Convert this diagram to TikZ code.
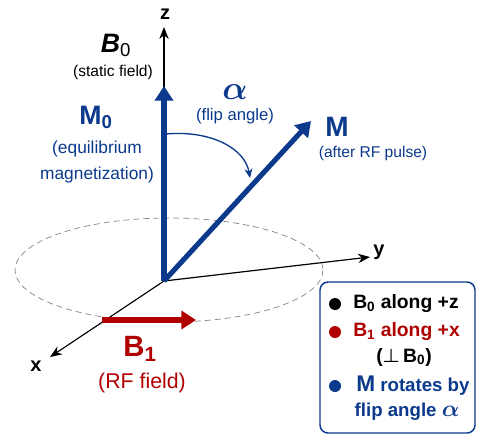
\documentclass[tikz,border=0pt]{standalone}
\usepackage{fontspec}
\setmainfont{Liberation Sans}
\usepackage{bm}
\usepackage{tikz}
\usetikzlibrary{arrows.meta,positioning}
\definecolor{magblue}{HTML}{0B3A8C}
\definecolor{rfred}{HTML}{B00000}
\tikzset{
  axis/.style={black,line width=0.9pt,-{Stealth[length=9pt,width=7pt]}},
  vec/.style={line width=3.8pt,-{Triangle[length=11pt,width=13.5pt]}},
  lbl/.style={inner sep=0pt,align=center},
  keydot/.style={circle,fill,inner sep=0pt,minimum size=9pt},
}

\begin{document}
\begin{tikzpicture}[x=0.75pt,y=-0.75pt,>=Latex]
\useasboundingbox (0,0) rectangle (477,435);
\fill[white] (0,0) rectangle (477,435);
% transverse plane
\draw[gray,line width=0.5pt,dash pattern=on 4.5pt off 3pt] (169,270) ellipse [x radius=154,y radius=52];
% axes
\coordinate (O) at (164,281);
\coordinate (ztip) at (164,27);
\coordinate (ytip) at (370,257);
\coordinate (xtip) at (50,357);
\draw[axis] (O) -- (ztip);
\draw[axis] (O) -- (ytip);
\draw[axis] (O) -- (xtip);
\node[lbl,font=\bfseries\fontsize{15}{15}\selectfont] (zlab) at (165,14) {z};
\node[lbl,font=\bfseries\fontsize{15}{15}\selectfont] (ylab) at (379,252) {y};
\node[lbl,font=\bfseries\fontsize{15}{15}\selectfont] (xlab) at (36,366) {x};
% magnetization
\coordinate (M0tip) at (164,86);
\coordinate (Mtip) at (311,121);
\draw[vec,magblue] (O) -- (M0tip);
\draw[vec,magblue] (O) -- (Mtip);
% RF field
\coordinate (B1start) at (102,320);
\coordinate (B1tip) at (196,320);
\draw[vec,rfred] (B1start) -- (B1tip);
% flip angle
\coordinate (arcstart) at (166,134);
\coordinate (arcend) at (250,178);
\draw[magblue,line width=1pt,-{Stealth[length=7pt,width=6pt]}] (arcstart) .. controls (210,130) and (245,148) .. (arcend);
% labels
\node[lbl,font=\fontsize{20}{20}\selectfont] (B0lab) at (116,45) {\textit{\textbf{B}}\textsubscript{0}};
\node[lbl,font=\fontsize{11.7}{14}\selectfont] (B0sub) at (113,72) {(static field)};
\node[lbl,magblue,font=\bfseries\fontsize{20}{20}\selectfont] (M0lab) at (96,117) {M\textsubscript{0}};
\node[lbl,magblue,font=\fontsize{13}{20}\selectfont] (M0sub) at (97,162) {(equilibrium\\magnetization)};
\node[lbl,magblue,font=\fontsize{24}{24}\selectfont] (alab) at (235,92) {$\bm{\alpha}$};
\node[lbl,magblue,font=\fontsize{12.5}{14}\selectfont] (asub) at (235,116) {(flip angle)};
\node[lbl,magblue,font=\bfseries\fontsize{21}{21}\selectfont] (Mlab) at (337,127) {M};
\node[lbl,magblue,font=\fontsize{11.7}{14}\selectfont] (Msub) at (373,153) {(after RF pulse)};
\node[lbl,rfred,font=\bfseries\fontsize{22}{22}\selectfont] (B1lab) at (140,349) {B\textsubscript{1}};
\node[lbl,rfred,font=\fontsize{16}{16}\selectfont] (B1sub) at (142,383) {(RF field)};
% legend
\draw[magblue,line width=1.1pt,rounded corners=6pt,fill=white] (320,282) rectangle (475,433);
\node[keydot,black] (d1) at (335,304) {};
\node[keydot,rfred] (d2) at (335,332) {};
\node[keydot,magblue] (d3) at (335,386) {};
\node[lbl,anchor=west,font=\bfseries\fontsize{14.5}{14.5}\selectfont] (k1) at (353,304) {B\textsubscript{0} along +z};
\node[lbl,anchor=west,rfred,font=\bfseries\fontsize{14.5}{14.5}\selectfont] (k2) at (353,332) {B\textsubscript{1} along +x};
\node[lbl,font=\bfseries\fontsize{14.5}{14.5}\selectfont] (k3) at (404,357) {($\bm{\perp}$\,B\textsubscript{0})};
\node[lbl,anchor=west,magblue,font=\bfseries\fontsize{14}{14}\selectfont] (k4) at (356,386) {{\fontsize{17}{17}\selectfont M} rotates by};
\node[lbl,magblue,font=\bfseries\fontsize{14}{14}\selectfont] (k5) at (407,412) {flip angle {\fontsize{18}{18}\selectfont$\bm{\alpha}$}};
\end{tikzpicture}
\end{document}
